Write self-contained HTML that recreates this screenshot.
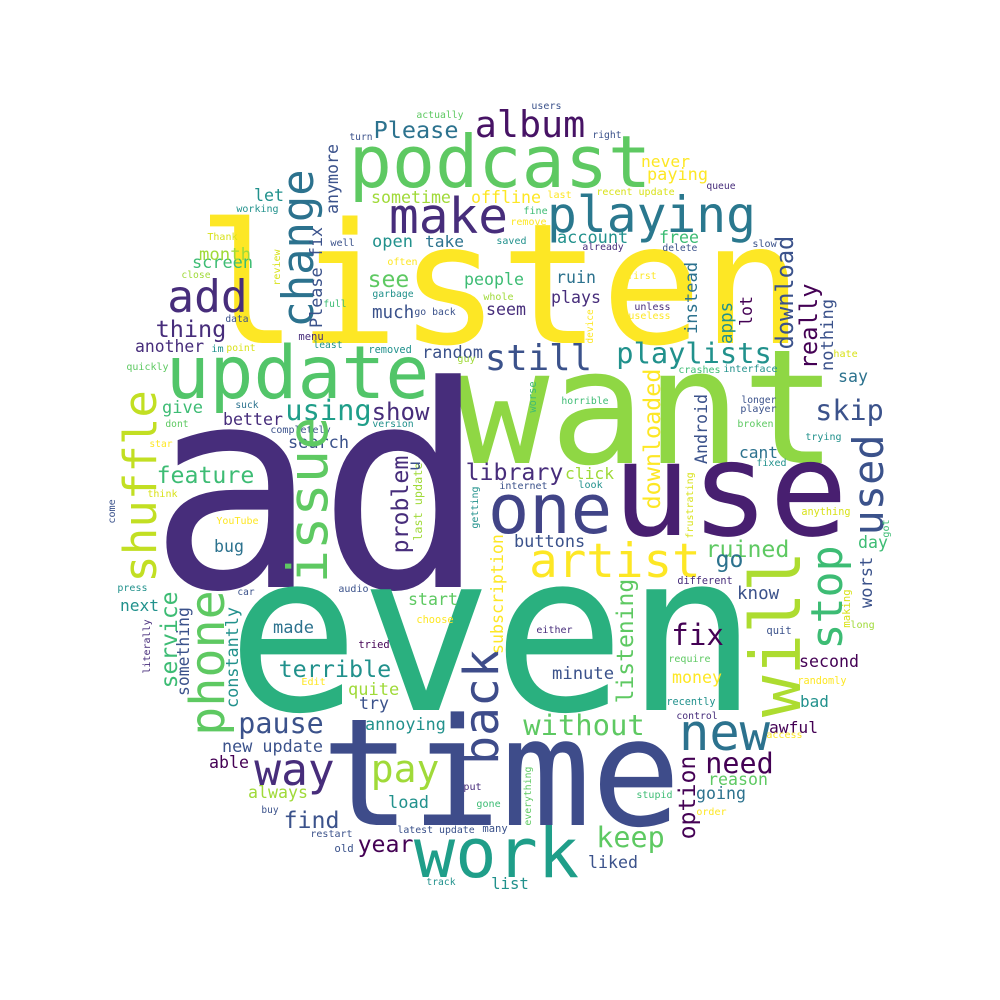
<!DOCTYPE html>
<html><head><meta charset="utf-8"><title>Word cloud</title>
<style>html,body{margin:0;padding:0;background:#fff;}svg{display:block;}
text{font-family:"DejaVu Sans Mono","Liberation Mono",monospace;}</style></head>
<body>
<svg id="cloud" width="1000" height="1000" viewBox="0 0 1000 1000" xmlns="http://www.w3.org/2000/svg">
<rect width="1000" height="1000" fill="#fff"/>
</svg>
<script>
const P0="#440154",P1="#472d7b",B="#3b528b",T="#2c728e",C="#21918c",G="#2ab07f",L="#5ec962",Y2="#addc30",Y="#fde725",YL="#d8e219",G2="#3dbc74";
// horizontal: [text, left, right, baseline, color]
const horiz=[
["listen",207,793,343,Y],["want",463,828,463,"#8fd744"],["ad",165,470,587,P1],["even",240,745,710,G],
["time",330,672,825,"#3e4c8a"],["use",620,840,535,"#481f70"],["podcast",353,647,187,L],["make",392,505,233,P1],
["playing",550,753,232,"#2a788e"],["album",477,583,137,"#471365"],["update",170,425,398,"#52c569"],["add",170,245,312,P1],
["still",487,590,370,B],["playlists",618,770,363,C],["one",492,608,533,"#414487"],["artist",532,698,577,Y],
["new",682,767,750,T],["work",418,575,877,"#1f9e89"],["way",257,332,785,P1],["pay",373,437,782,"#a0da39"],
["keep",598,663,847,L],["skip",817,882,420,B],["pause",240,322,733,B],["fix",673,722,645,P0],
["without",525,643,735,L],["terrible",280,390,677,C],["feature",158,253,483,G2],["using",287,370,420,"#1f9e89"],
["show",373,428,420,P1],["thing",157,225,337,P1],["Please",375,457,138,T],["ruined",707,788,557,L],
["need",707,772,773,P0],["free",660,698,243,G2],["account",558,627,243,C],["never",642,689,167,Y],
["paying",648,707,180,Y],["offline",472,540,203,Y],["sometime",372,450,203,"#a0da39"],["let",255,283,201,C],
["open",373,412,247,C],["take",426,463,247,T],["see",369,408,287,L],["people",465,523,285,G2],
["much",373,413,318,B],["seem",487,525,315,P1],["ruin",557,595,283,T],["plays",552,600,303,P1],
["random",423,482,358,B],["screen",193,252,268,G2],["month",200,250,260,"#a0da39"],["another",136,203,352,P1],
["give",163,202,413,G2],["better",224,282,425,P1],["search",289,348,448,B],["library",467,562,480,P1],
["click",566,613,479,"#a0da39"],["buttons",515,584,547,B],["go",717,742,567,T],["know",738,778,599,B],
["minute",553,613,679,B],["money",673,721,683,Y],["second",800,858,667,P0],["bad",801,828,707,C],
["awful",770,817,733,P0],["reason",709,767,785,L],["going",697,745,799,T],["liked",589,637,868,B],
["list",492,528,889,C],["day",859,887,548,G2],["say",839,867,382,T],["cant",740,777,458,T],
["next",121,158,611,C],["made",274,313,633,T],["start",409,457,605,L],["bug",215,243,552,T],
["quite",349,398,695,"#a0da39"],["try",360,388,709,B],["annoying",366,445,730,C],["new update",223,322,752,B],
["able",210,248,768,P0],["always",249,307,798,"#a0da39"],["load",389,428,808,C],["find",285,338,828,B],
["year",359,412,852,P0],
["actually",417,463,118,L],["turn",350,372,140,B],["working",237,278,212,C],["Thank",208,237,240,YL],
["well",331,354,246,B],["often",388,417,265,Y],["close",182,210,278,"#a0da39"],["garbage",373,413,297,C],
["full",324,346,307,G2],["whole",484,513,300,"#a0da39"],["go back",415,455,315,B],["data",226,248,322,B],
["menu",299,323,340,P1],["least",314,342,348,C],["im",212,223,352,C],["point",227,255,351,YL],
["removed",369,411,353,C],["guy",458,475,362,"#a0da39"],["quickly",127,168,370,L],["suck",236,258,408,T],
["dont",166,188,427,L],["completely",271,330,433,B],["version",373,413,427,C],["star",150,172,447,Y],
["think",148,177,497,YL],["internet",500,547,489,B],["look",579,602,488,C],["YouTube",217,258,524,Y],
["press",118,147,591,C],["car",238,254,595,B],["audio",339,368,592,B],["choose",417,453,623,Y],
["tried",359,389,648,P0],["Edit",302,325,685,Y],["put",464,481,790,P1],["gone",477,500,807,G2],
["buy",262,278,813,B],["latest update",398,474,833,B],["many",483,507,832,B],["restart",311,352,837,B],
["old",335,353,852,B],["track",427,455,885,C],["users",532,561,109,B],["right",593,621,138,B],
["queue",707,735,189,P1],["last",548,571,198,Y],["recent update",597,674,195,YL],["fine",524,547,214,G2],
["remove",511,546,225,Y],["saved",497,526,244,C],["already",583,623,250,P1],["delete",663,697,251,B],
["slow",753,776,247,B],["first",628,656,279,Y],["unless",635,670,310,P1],["useless",629,670,319,Y],
["hate",834,857,357,YL],["crashes",679,720,373,G2],["interface",724,777,372,C],["horrible",562,608,404,G2],
["longer",742,776,403,B],["player",741,776,412,B],["broken",738,773,427,L],["trying",806,841,440,C],
["fixed",757,786,466,C],["anything",802,850,515,YL],["different",678,732,584,P1],["long",851,874,628,"#a0da39"],
["either",537,572,633,P1],["quit",767,791,634,B],["require",669,710,662,L],["randomly",798,846,684,Y],
["recently",667,715,705,C],["control",677,717,719,P1],["access",767,802,738,Y],["stupid",637,672,798,G2],
["order",697,726,815,Y]
];
// vertical (reads upward): [text, top, bottom, baselineX, color]
const vert=[
["change",172,325,313,T],["shuffle",393,580,156,"#c2df23"],["issue",420,580,327,L],["will",555,713,800,Y2],
["stop",548,647,842,"#3dbc74"],["used",437,533,883,B],["back",652,762,498,"#3e4c8a"],["phone",593,733,224,L],
["option",757,838,695,P0],["listening",580,702,633,L],["downloaded",370,508,660,Y],["Android",395,463,707,B],
["download",237,348,793,B],["really",285,368,817,P0],["nothing",300,370,833,B],["instead",263,333,697,T],
["apps",303,343,732,C],["lot",297,325,752,P0],["anymore",145,213,338,B],["Please fix",228,327,322,B],
["problem",457,552,408,P1],["subscription",535,653,503,Y],["worst",558,607,872,B],["service",593,687,177,G2],
["something",608,695,189,B],["constantly",608,707,238,C],["last update",463,540,422,"#a0da39"],
["review",250,285,280,YL],["come",500,523,115,B],["getting",487,528,478,C],["literally",620,673,150,P1],
["device",310,343,593,Y],["worse",382,412,536,G2],["frustrating",473,538,693,YL],["got",520,537,889,G2],
["making",590,627,850,YL],["everything",767,825,531,L],["u",462,470,420,B]
];
const svg=document.getElementById('cloud');
const NS="http://www.w3.org/2000/svg";
function slug(s){return s.toLowerCase().replace(/[^a-z0-9]+/g,'-');}
horiz.forEach(function(w){
  const n=w[0].length;
  const fs=(w[2]-w[1])/(n*0.602-0.12);
  const el=document.createElementNS(NS,'text');
  el.setAttribute('x',(w[1]-0.06*fs).toFixed(1));
  el.setAttribute('y',w[3]);
  el.setAttribute('font-size',fs.toFixed(1));
  el.setAttribute('fill',w[4]);
  
  
  el.textContent=w[0];
  svg.appendChild(el);
});
vert.forEach(function(w){
  const n=w[0].length;
  const fs=(w[2]-w[1])/(n*0.602-0.12);
  const el=document.createElementNS(NS,'text');
  const by=w[2]+0.06*fs;
  el.setAttribute('transform','translate('+w[3]+','+by.toFixed(1)+') rotate(-90)');
  el.setAttribute('x',0);
  el.setAttribute('y',0);
  el.setAttribute('font-size',fs.toFixed(1));
  el.setAttribute('fill',w[4]);
  
  
  el.textContent=w[0];
  svg.appendChild(el);
});
</script>
</body></html>
